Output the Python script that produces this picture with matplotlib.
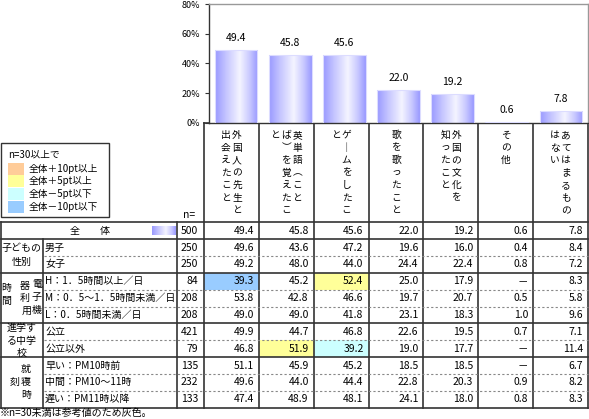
import matplotlib
matplotlib.use('Agg')
import matplotlib.pyplot as pl
import numpy as np
from matplotlib.colors import LinearSegmentedColormap
from matplotlib.patches import Rectangle

pl.rcParams['font.family'] = ['Noto Sans CJK JP', 'DejaVu Sans']

# --- data -------------------------------------------------------------------
categories = ['外国人の先生と出会えたこと', '英単語（ことば）を覚えたこと',
              'ゲームをしたこと', '歌を歌ったこと', '外国の文化を知ったこと',
              'その他', 'あてはまるものはない']
# vertical header columns, right to left
header_lines = [['外国人の先生と', '出会えたこと'],
                ['英単語︵こと', 'ば︶を覚えたこ', 'と'],
                ['ゲ｜ムをしたこ', 'と'],
                ['歌を歌ったこと'],
                ['外国の文化を', '知ったこと'],
                ['その他'],
                ['あてはまるもの', 'はない']]
overall = [49.4, 45.8, 45.6, 22.0, 19.2, 0.6, 7.8]

row_labels = ['全　　体', '男子', '女子',
              'H：1．5時間以上／日', 'M：0．5～1．5時間未満／日', 'L：0．5時間未満／日',
              '公立', '公立以外',
              '早い：PM10時前', '中間：PM10～11時', '遅い：PM11時以降']
row_n = [500, 250, 250, 84, 208, 208, 421, 79, 135, 232, 133]
values = [[49.4, 45.8, 45.6, 22.0, 19.2, 0.6, 7.8],
          [49.6, 43.6, 47.2, 19.6, 16.0, 0.4, 8.4],
          [49.2, 48.0, 44.0, 24.4, 22.4, 0.8, 7.2],
          [39.3, 45.2, 52.4, 25.0, 17.9, None, 8.3],
          [53.8, 42.8, 46.6, 19.7, 20.7, 0.5, 5.8],
          [49.0, 49.0, 41.8, 23.1, 18.3, 1.0, 9.6],
          [49.9, 44.7, 46.8, 22.6, 19.5, 0.7, 7.1],
          [46.8, 51.9, 39.2, 19.0, 17.7, None, 11.4],
          [51.1, 45.9, 45.2, 18.5, 18.5, None, 6.7],
          [49.6, 44.0, 44.4, 22.8, 20.3, 0.9, 8.2],
          [47.4, 48.9, 48.1, 24.1, 18.0, 0.8, 8.3]]
group_ends = [0, 2, 5, 7, 10]

legend_title = 'n=30以上で'
legend_labels = ['全体＋10pt以上', '全体＋5pt以上', '全体－5pt以下', '全体－10pt以下']
legend_colors = ['#ffcc99', '#ffff99', '#ccffff', '#99ccff']
footnote = '※n=30未満は参考値のため灰色。'

W, H = 589, 419
FS = 7.5
LFS = 7.2
LINE = '#333333'

bar_cmap = LinearSegmentedColormap.from_list(
    'cyl', [(0, '#9a9aff'), (0.25, '#c4c4ff'), (0.58, '#f4f4ff'),
            (0.82, '#c8c8ff'), (1, '#9a9aff')])


def highlight(v, base, n):
    if v is None or n < 30:
        return None
    d = v - base
    if d >= 10:
        return legend_colors[0]
    if d >= 5:
        return legend_colors[1]
    if d <= -10:
        return legend_colors[3]
    if d <= -5:
        return legend_colors[2]
    return None


def vtext(ax, x, y0, s, pitch=12.5, size=LFS):
    for i, ch in enumerate(s):
        ax.text(x, y0 + i * pitch, ch, ha='center', va='center', fontsize=size)


def main():
    fig = pl.figure(figsize=(W / 100, H / 100), dpi=100)
    ax = fig.add_axes([0, 0, 1, 1])
    ax.set_xlim(0, W)
    ax.set_ylim(H, 0)
    ax.axis('off')

    # --- bar chart ---
    bx = fig.add_axes([209 / W, 1 - 123 / H, 379 / W, 119 / H])
    x = np.arange(len(overall))
    bars = bx.bar(x, overall, width=0.79, color='none', edgecolor='#dcdcff',
                  linewidth=0.8, zorder=3)
    grad = np.linspace(0, 1, 64).reshape(1, -1)
    for b, v in zip(bars, overall):
        im = bx.imshow(grad, cmap=bar_cmap, aspect='auto', zorder=2,
                       extent=[b.get_x(), b.get_x() + b.get_width(), 0, b.get_height()])
        im.set_clip_path(b)
        bx.annotate('%.1f' % v, (b.get_x() + b.get_width() / 2, v),
                    xytext=(0, 12), textcoords='offset pixels',
                    ha='center', va='center', fontsize=FS)
    bx.set_xlim(-0.5, len(overall) - 0.5)
    bx.set_ylim(0, 80)
    bx.set_xticks([])
    bx.set_yticks([0, 20, 40, 60, 80])
    bx.set_yticklabels(['%d%%' % t for t in [0, 20, 40, 60, 80]], fontsize=6.5)
    bx.tick_params(axis='y', length=3, width=0.8, color=LINE, pad=3.5)
    for side in ['top', 'right']:
        bx.spines[side].set_color('#999999')
    for side in ['left', 'bottom']:
        bx.spines[side].set_color(LINE)
    for s in bx.spines.values():
        s.set_linewidth(1.0)

    # --- table geometry ---
    col_left, col_right = 204, 588
    col_w = (col_right - col_left) / len(categories)
    top, bottom = 222.3, 407.7
    rh = (bottom - top) / len(row_labels)

    # header
    ax.plot([col_left, col_right], [123, 123], color=LINE, lw=1.2)
    for j, lines in enumerate(header_lines):
        cx = col_left + (j + 0.5) * col_w
        k = len(lines)
        for m, s in enumerate(lines):
            vtext(ax, cx + (k - 1) * 5.5 - m * 11, 135, s, size=7.0)
    ax.text(189, 215, 'n=', ha='center', va='center', fontsize=FS)

    # cell highlights
    for i, row in enumerate(values):
        for j, v in enumerate(row):
            c = highlight(v, overall[j], row_n[i])
            if c:
                ax.add_patch(Rectangle((col_left + j * col_w, top + i * rh), col_w, rh,
                                       facecolor=c, edgecolor='none', zorder=0))

    # grid lines
    for j in range(len(categories) + 1):
        xx = col_left + j * col_w
        ax.plot([xx, xx], [123, bottom], color=LINE, lw=1.2)
    ax.plot([177, 177], [top, bottom], color=LINE, lw=1.2)
    ax.plot([1, 1], [top, bottom], color=LINE, lw=1.2)
    ax.plot([43, 43], [top + rh, bottom], color=LINE, lw=1.2)
    ax.plot([1, col_right], [top, top], color=LINE, lw=1.2)
    for i in range(len(row_labels)):
        yy = top + (i + 1) * rh
        if i in group_ends:
            ax.plot([1, col_right], [yy, yy], color=LINE, lw=1.2)
        else:
            ax.plot([44, col_right], [yy, yy], color='#888888', lw=0.8,
                    linestyle=(0, (2, 2)))

    # row texts
    for i, (lab, n, row) in enumerate(zip(row_labels, row_n, values)):
        yc = top + (i + 0.5) * rh
        if i == 0:
            ax.text(90, yc, lab, ha='center', va='center', fontsize=LFS)
        else:
            ax.text(45, yc, lab, ha='left', va='center', fontsize=LFS)
        ax.text(198, yc, str(n), ha='right', va='center', fontsize=FS)
        for j, v in enumerate(row):
            s = '－' if v is None else '%.1f' % v
            ax.text(col_left + (j + 1) * col_w - 5, yc, s, ha='right', va='center',
                    fontsize=FS)

    # small bar swatch in the overall row
    ax.imshow(grad, cmap=bar_cmap, aspect='auto', zorder=1,
              extent=[152, 176, 235, 226])

    # group labels
    ax.text(22, 248, '子どもの', ha='center', va='center', fontsize=LFS)
    ax.text(22, 261.5, '性別', ha='center', va='center', fontsize=LFS)
    vtext(ax, 37, 284, '電子機', pitch=13)
    vtext(ax, 25, 286, '器利', pitch=11.5)
    ax.text(27, 310.5, '用', ha='center', va='center', fontsize=LFS)
    vtext(ax, 6, 288, '時間', pitch=13)
    ax.text(22, 328, '進学す', ha='center', va='center', fontsize=LFS)
    ax.text(22, 341, 'る中学', ha='center', va='center', fontsize=LFS)
    ax.text(22, 352.5, '校', ha='center', va='center', fontsize=LFS)
    vtext(ax, 26, 369, '就寝時', pitch=13)
    ax.text(14.5, 382, '刻', ha='center', va='center', fontsize=LFS)

    # legend
    ax.add_patch(Rectangle((0.5, 143), 108.5, 73.5, facecolor='white',
                           edgecolor=LINE, lw=1.0))
    ax.text(8, 154.5, legend_title, ha='left', va='center', fontsize=7)
    for k, (lab, c) in enumerate(zip(legend_labels, legend_colors)):
        yc = 168.5 + k * 12.7
        ax.add_patch(Rectangle((8, yc - 6), 16, 12, facecolor=c, edgecolor='none'))
        ax.text(28.5, yc, lab, ha='left', va='center', fontsize=7)

    ax.text(0, 413, footnote, ha='left', va='center', fontsize=LFS)

    fig.savefig('out.png', dpi=100)


if __name__ == "__main__":
    main()
